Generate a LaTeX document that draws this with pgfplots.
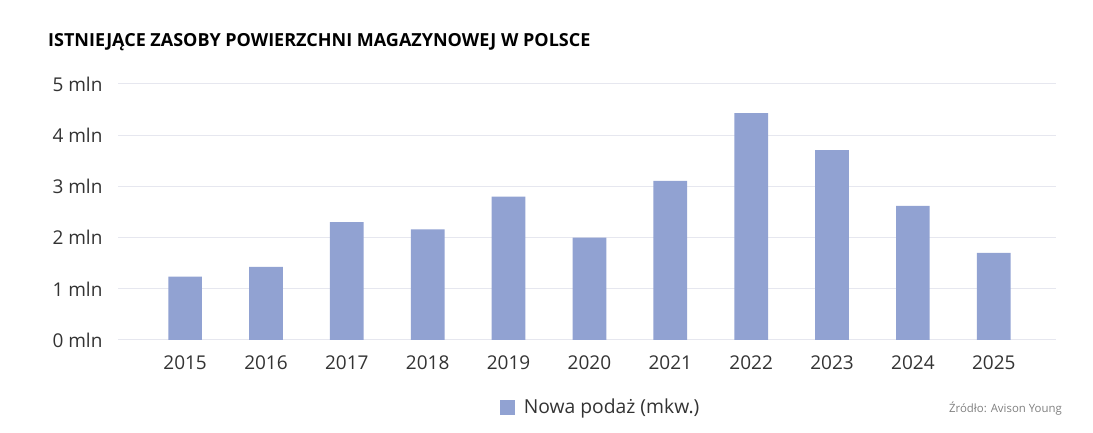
\documentclass[border=0pt]{standalone}
\usepackage{pgfplots}
\pgfplotsset{compat=1.18}
\usepackage{fontspec}
\setmainfont{Open Sans}
\definecolor{barblue}{HTML}{91A2D2}
\definecolor{gridgray}{HTML}{E6E7EF}
\definecolor{txt}{HTML}{333333}

\begin{document}
\begin{tikzpicture}
  % page frame, 1 px = 1 pt
  \path[use as bounding box] (0pt,0pt) rectangle (1093pt,433pt);
  \node[anchor=west,inner sep=0pt,font=\fontsize{18}{21}\selectfont\bfseries,text=black] at (48pt,391pt) {ISTNIEJĄCE ZASOBY POWIERZCHNI MAGAZYNOWEJ W POLSCE};
  \node[anchor=east,inner sep=0pt,font=\fontsize{11.4}{13}\selectfont,text=gray] at (1062pt,24pt) {Źródło: Avison Young};

  \begin{axis}[
      at={(118pt,93pt)}, anchor=south west,
      scale only axis,
      width=938pt, height=256pt,
      ybar, bar width=33.7pt,
      xmin=-0.83, xmax=10.77,
      ymin=0, ymax=5,
      ytick={0,1,...,5},
      yticklabel={\pgfmathprintnumber{\tick} mln},
      xtick=data,
      xticklabels={2015,2016,2017,2018,2019,2020,2021,2022,2023,2024,2025},
      /pgf/number format/assume math mode=true,
      axis line style={draw=none},
      major tick length=0pt,
      ymajorgrids, grid style={gridgray, line width=1pt},
      tick label style={font=\fontsize{19}{22}\selectfont, text=txt},
      xticklabel style={yshift=-12pt},
      yticklabel style={xshift=-12pt},
      legend style={at={(0.5145,-0.262)}, anchor=center, draw=none,
        font=\fontsize{19.3}{22}\selectfont, text=txt},
      legend image code/.code={\fill[barblue] (0pt,-7.5pt) rectangle (15pt,7.5pt);},
    ]
    \addplot[fill=barblue, draw=none] coordinates {
      (0,1.24) (1,1.43) (2,2.30) (3,2.16) (4,2.80) (5,2.00)
      (6,3.11) (7,4.43) (8,3.71) (9,2.62) (10,1.70)
    };
    \legend{\hspace{7pt}Nowa podaż (mkw.)}
  \end{axis}
\end{tikzpicture}
\end{document}
